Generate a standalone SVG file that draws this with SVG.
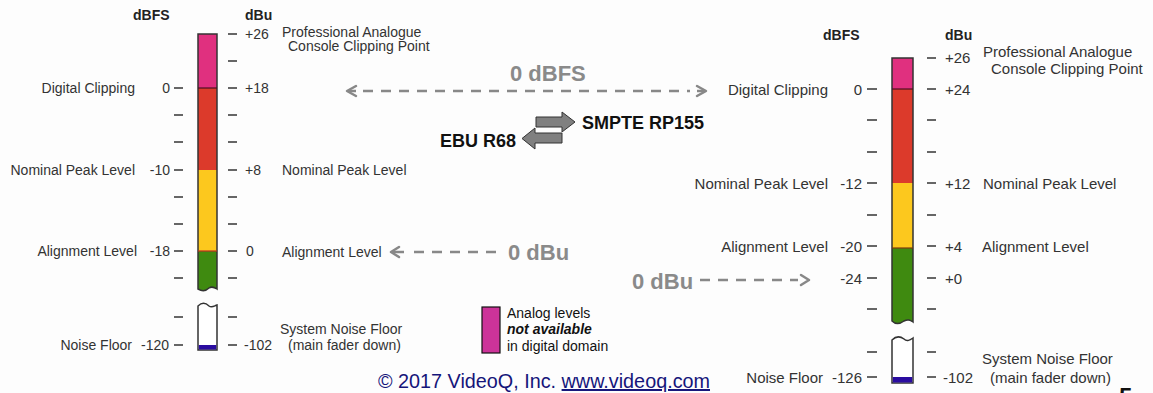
<svg xmlns="http://www.w3.org/2000/svg" width="1153" height="393" viewBox="0 0 1153 393">
<style>
  text { font-family: "Liberation Sans", Arial, sans-serif; fill: #333; }
  .l { font-size: 14px; }
  .r { font-size: 15px; }
  .e { text-anchor: end; }
  .h { font-size: 14px; font-weight: bold; fill: #222; }
  .big { font-size: 22px; font-weight: bold; fill: #8a8a8a; }
  .std { font-size: 18px; font-weight: bold; fill: #111; }
  .tick { stroke: #333; stroke-width: 1.5; }
  .bar { stroke: #333; stroke-width: 1.5; }
  .dash { stroke: #888; stroke-width: 2.5; stroke-dasharray: 10 8; fill: none; }
  .head { stroke: #888; stroke-width: 2.5; fill: none; stroke-linecap: round; stroke-linejoin: round; }
  .blk { fill: #808080; stroke: #333; stroke-width: 1; }
</style>
<rect width="1153" height="393" fill="#fdfdfd"/>

<g id="left-meter">
  <text class="h" x="133" y="20">dBFS</text>
  <text class="h" x="245" y="20">dBu</text>
  <rect x="198" y="34" width="19" height="54" fill="#e0307f"/>
  <rect x="198" y="88" width="19" height="82" fill="#dc3a2b"/>
  <rect x="198" y="170" width="19" height="81" fill="#fcc81e"/>
  <path d="M198,251 H217 V289 C214,287 212,286 209,288 C206,291 203,292 198,289 Z" fill="#3f8a10"/>
  <path d="M198,34 H217 V289 C214,287 212,286 209,288 C206,291 203,292 198,289 Z" fill="none" class="bar"/>
  <line x1="198" y1="88" x2="217" y2="88" stroke="#4a1020" stroke-width="1.2"/>
  <line x1="198" y1="251" x2="217" y2="251" stroke="#c03020" stroke-width="1.2"/>
  <path d="M198,306 C202,302 206,303 209,306 C212,308 214,306 217,305 V350 H198 Z" fill="#fff" class="bar"/>
  <rect x="198.8" y="345" width="17.4" height="4.5" fill="#2a0ca0"/>
  <g class="tick">
    <line x1="174" y1="88" x2="183" y2="88"/><line x1="174" y1="115" x2="183" y2="115"/>
    <line x1="174" y1="142" x2="183" y2="142"/><line x1="174" y1="170" x2="183" y2="170"/>
    <line x1="174" y1="197" x2="183" y2="197"/><line x1="174" y1="224" x2="183" y2="224"/>
    <line x1="174" y1="251" x2="183" y2="251"/><line x1="174" y1="278" x2="183" y2="278"/>
    <line x1="174" y1="317" x2="183" y2="317"/><line x1="174" y1="345" x2="183" y2="345"/>
    <line x1="228" y1="34" x2="237" y2="34"/><line x1="228" y1="61" x2="237" y2="61"/>
    <line x1="228" y1="88" x2="237" y2="88"/><line x1="228" y1="115" x2="237" y2="115"/>
    <line x1="228" y1="142" x2="237" y2="142"/><line x1="228" y1="170" x2="237" y2="170"/>
    <line x1="228" y1="197" x2="237" y2="197"/><line x1="228" y1="224" x2="237" y2="224"/>
    <line x1="228" y1="251" x2="237" y2="251"/><line x1="228" y1="278" x2="237" y2="278"/>
    <line x1="228" y1="317" x2="237" y2="317"/><line x1="228" y1="345" x2="237" y2="345"/>
  </g>
  <text class="l e" x="170" y="93">0</text>
  <text class="l e" x="170" y="175">-10</text>
  <text class="l e" x="170" y="256">-18</text>
  <text class="l e" x="169" y="350">-120</text>
  <text class="l e" x="135" y="93">Digital Clipping</text>
  <text class="l e" x="135" y="175">Nominal Peak Level</text>
  <text class="l e" x="137" y="256">Alignment Level</text>
  <text class="l e" x="132" y="350">Noise Floor</text>
  <text class="l" x="245" y="39">+26</text>
  <text class="l" x="245" y="93">+18</text>
  <text class="l" x="245" y="175">+8</text>
  <text class="l" x="246" y="256">0</text>
  <text class="l" x="244" y="350">-102</text>
  <text class="l" x="282" y="37">Professional Analogue</text>
  <text class="l" x="288" y="51">Console Clipping Point</text>
  <text class="l" x="282" y="175">Nominal Peak Level</text>
  <text class="l" x="282" y="257">Alignment Level</text>
  <text class="l" x="280" y="334">System Noise Floor</text>
  <text class="l" x="288" y="350">(main fader down)</text>
</g>

<g id="right-meter">
  <text class="h" x="823" y="40">dBFS</text>
  <text class="h" x="945" y="40">dBu</text>
  <rect x="892" y="58" width="21" height="31" fill="#e0307f"/>
  <rect x="892" y="89" width="21" height="94" fill="#dc3a2b"/>
  <rect x="892" y="183" width="21" height="65" fill="#fcc81e"/>
  <path d="M892,248 H913 V322 C910,320 908,319 904,321 C900,324 896,325 892,321 Z" fill="#3f8a10"/>
  <path d="M892,58 H913 V322 C910,320 908,319 904,321 C900,324 896,325 892,321 Z" fill="none" class="bar"/>
  <line x1="892" y1="89" x2="913" y2="89" stroke="#4a1020" stroke-width="1.2"/>
  <line x1="892" y1="248" x2="913" y2="248" stroke="#7a3a10" stroke-width="1.2"/>
  <path d="M892,340 C896,336 900,336 904,339 C907,342 910,340 913,338 V383 H892 Z" fill="#fff" class="bar"/>
  <rect x="892.8" y="377" width="19.4" height="5.5" fill="#2a0ca0"/>
  <g class="tick">
    <line x1="867" y1="89" x2="877" y2="89"/><line x1="867" y1="120" x2="877" y2="120"/>
    <line x1="867" y1="152" x2="877" y2="152"/><line x1="867" y1="183" x2="877" y2="183"/>
    <line x1="867" y1="215" x2="877" y2="215"/><line x1="867" y1="246" x2="877" y2="246"/>
    <line x1="867" y1="278" x2="877" y2="278"/><line x1="867" y1="309" x2="877" y2="309"/>
    <line x1="867" y1="352" x2="877" y2="352"/><line x1="867" y1="377" x2="877" y2="377"/>
    <line x1="927" y1="58" x2="936" y2="58"/><line x1="927" y1="89" x2="936" y2="89"/>
    <line x1="927" y1="120" x2="936" y2="120"/><line x1="927" y1="152" x2="936" y2="152"/>
    <line x1="927" y1="183" x2="936" y2="183"/><line x1="927" y1="215" x2="936" y2="215"/>
    <line x1="927" y1="246" x2="936" y2="246"/><line x1="927" y1="278" x2="936" y2="278"/>
    <line x1="927" y1="309" x2="936" y2="309"/><line x1="927" y1="352" x2="936" y2="352"/>
    <line x1="927" y1="377" x2="936" y2="377"/>
  </g>
  <text class="r e" x="862" y="95">0</text>
  <text class="r e" x="862" y="189">-12</text>
  <text class="r e" x="862" y="252">-20</text>
  <text class="r e" x="862" y="284">-24</text>
  <text class="r e" x="862" y="383">-126</text>
  <text class="r e" x="828" y="95">Digital Clipping</text>
  <text class="r e" x="828" y="189">Nominal Peak Level</text>
  <text class="r e" x="828" y="252">Alignment Level</text>
  <text class="r e" x="823" y="383">Noise Floor</text>
  <text class="r" x="945" y="63">+26</text>
  <text class="r" x="945" y="95">+24</text>
  <text class="r" x="945" y="189">+12</text>
  <text class="r" x="945" y="252">+4</text>
  <text class="r" x="945" y="284">+0</text>
  <text class="r" x="943" y="383">-102</text>
  <text class="r" x="983" y="57">Professional Analogue</text>
  <text class="r" x="991" y="74">Console Clipping Point</text>
  <text class="r" x="983" y="189">Nominal Peak Level</text>
  <text class="r" x="982" y="252">Alignment Level</text>
  <text class="r" x="982" y="364">System Noise Floor</text>
  <text class="r" x="990" y="383">(main fader down)</text>
</g>

<g id="connectors">
  <line class="dash" x1="363" y1="91" x2="690" y2="91"/>
  <polyline class="head" points="356,86 347,91 356,96"/>
  <polyline class="head" points="697,86 706,91 697,96"/>
  <line x1="348" y1="91" x2="356" y2="91" stroke="#888" stroke-width="2.5"/>
  <line x1="697" y1="91" x2="705" y2="91" stroke="#888" stroke-width="2.5"/>

  <polyline class="head" points="399,247 391,252 399,257"/>
  <line x1="392" y1="252" x2="404" y2="252" stroke="#888" stroke-width="2.5"/>
  <line class="dash" x1="414" y1="252" x2="500" y2="252"/>

  <line class="dash" x1="700" y1="280" x2="798" y2="280"/>
  <polyline class="head" points="801,275 809,280 801,285"/>
</g>

<g id="labels">
  <text class="big" x="510" y="81">0 dBFS</text>
  <text class="big" x="508" y="260">0 dBu</text>
  <text class="big" x="632" y="289">0 dBu</text>
</g>

<g id="standards">
  <path class="blk" d="M536,117 H562 V112 L575,122 L562,132 V127 H536 Z"/>
  <path class="blk" d="M562,133 H535 V128 L522,138.5 L535,149 V143 H562 Z"/>
  <text class="std" x="582" y="128.5">SMPTE RP155</text>
  <text class="std" x="440" y="146.5">EBU R68</text>
</g>

<g id="legend">
  <rect x="482" y="307" width="18" height="46" fill="#cc3399" stroke="#111" stroke-width="1.2"/>
  <text class="l" x="507" y="318" style="fill:#111">Analog levels</text>
  <text class="l" x="507" y="334" style="font-weight:bold;font-style:italic;fill:#111">not available</text>
  <text class="l" x="507" y="351" style="fill:#111">in digital domain</text>
</g>

<g id="footer">
  <text x="378" y="388" style="font-size:19.8px;fill:#15157a">© 2017 VideoQ, Inc. <tspan text-decoration="underline">www.videoq.com</tspan></text>
  <text x="1119" y="405" style="font-size:24px;font-weight:bold;fill:#111">5</text>
</g>
</svg>
